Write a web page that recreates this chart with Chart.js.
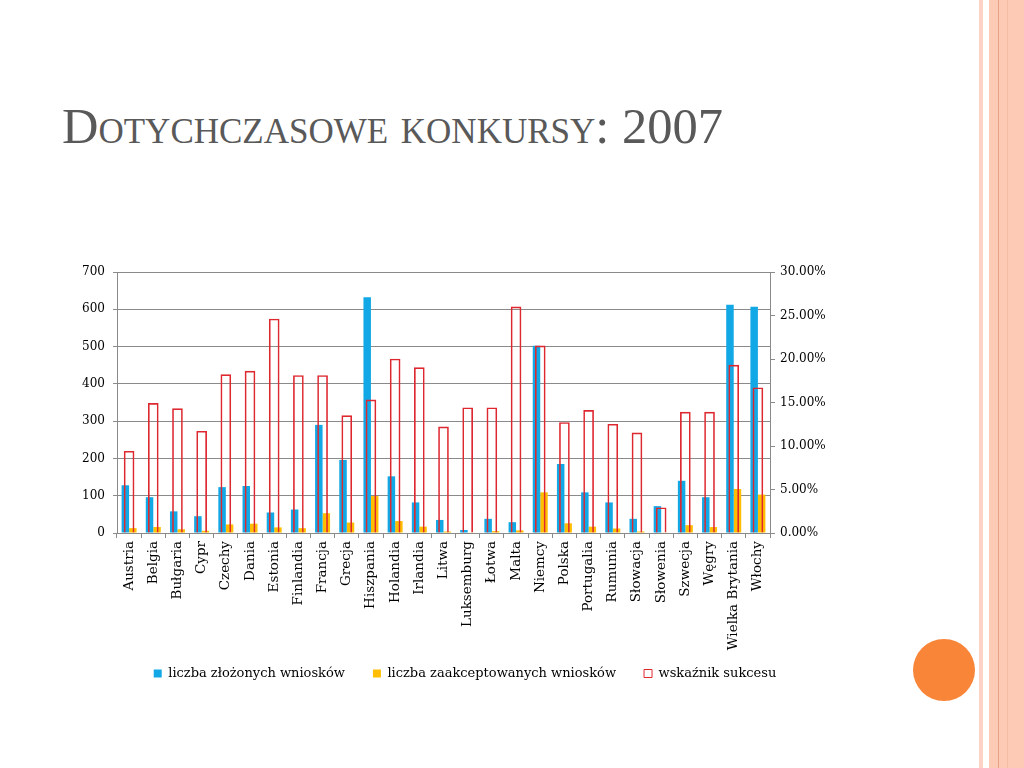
<!DOCTYPE html>
<html>
<head>
<meta charset="utf-8">
<script src="https://cdn.jsdelivr.net/npm/chart.js@4.4.1/dist/chart.umd.min.js"></script>
<style>
  html, body { margin: 0; padding: 0; background: #fff; }
  body { width: 1024px; height: 768px; position: relative; overflow: hidden; }
  #title {
    position: absolute; left: 62px; top: 97px;
    font-family: "Liberation Serif", serif; font-size: 50.5px;
    font-variant: small-caps; color: #595959; white-space: nowrap;
  }
  .deco { position: absolute; top: 0; height: 768px; }
  #circle {
    position: absolute; left: 913px; top: 639px; width: 62px; height: 62px;
    border-radius: 50%; background: #f98539;
  }
  #chart { position: absolute; left: 0; top: 0; }
</style>
</head>
<body>
<div class="deco" style="left:979px;width:4px;background:#fbd2c3"></div>
<div class="deco" style="left:989px;width:35px;background:#fccab5"></div>
<div class="deco" style="left:998px;width:1px;background:#e4a283"></div>
<div class="deco" style="left:1007px;width:1px;background:#f6bca3"></div>
<div id="circle"></div>
<div id="title">Dotychczasowe konkursy: 2007</div>
<canvas id="chart" width="1024" height="768"></canvas>
<script>
// Data
const countries = ["Austria", "Belgia", "Bułgaria", "Cypr", "Czechy", "Dania", "Estonia",
  "Finlandia", "Francja", "Grecja", "Hiszpania", "Holandia", "Irlandia", "Litwa",
  "Luksemburg", "Łotwa", "Malta", "Niemcy", "Polska", "Portugalia", "Rumunia",
  "Słowacja", "Słowenia", "Szwecja", "Węgry", "Wielka Brytania", "Włochy"];

const submitted = [128, 96, 58, 45, 123, 126, 55, 63, 290, 196, 632, 152, 82, 35,
  8, 38, 29, 502, 185, 109, 82, 38, 72, 140, 96, 612, 607];

const accepted = [13, 16, 10, 6, 23, 25, 15, 13, 53, 28, 99, 32, 17, 4,
  1, 5, 7, 109, 26, 17, 12, 4, 1, 21, 16, 118, 103];

// success rate in percent (right axis)
const successRate = [9.4, 14.9, 14.3, 11.7, 18.2, 18.6, 24.6, 18.1, 18.1, 13.5, 15.3,
  20.0, 19.0, 12.2, 14.4, 14.4, 26.0, 21.5, 12.7, 14.1, 12.5, 11.5, 2.9, 13.9,
  13.9, 19.3, 16.7];

const seriesNames = ["liczba złożonych wniosków", "liczba zaakceptowanych wniosków", "wskaźnik sukcesu"];

Chart.defaults.font.family = "'DejaVu Serif', serif";
Chart.defaults.color = "#000";

const axisGray = "#8a8a8a";

new Chart(document.getElementById("chart"), {
  type: "bar",
  data: {
    labels: countries,
    datasets: [
      {
        label: seriesNames[0],
        data: submitted,
        backgroundColor: "#12a8e6",
        yAxisID: "y",
        order: 1,
        categoryPercentage: 0.62,
        barPercentage: 1.0,
      },
      {
        label: seriesNames[1],
        data: accepted,
        backgroundColor: "#ffbf00",
        yAxisID: "y",
        order: 2,
        categoryPercentage: 0.62,
        barPercentage: 1.0,
      },
      {
        label: seriesNames[2],
        data: successRate,
        backgroundColor: "rgba(255,255,255,0)",
        borderColor: "#de2830",
        borderWidth: 1,
        yAxisID: "y1",
        order: 0,
        grouped: false,
        barThickness: 10,
      },
    ],
  },
  options: {
    responsive: false,
    animation: false,
    layout: { padding: { left: 60, right: 154, top: 272, bottom: 78 } },
    plugins: {
      tooltip: { enabled: false },
      legend: {
        position: "bottom",
        labels: {
          boxWidth: 8,
          boxHeight: 8,
          padding: 28,
          font: { size: 13 },
          sort: (a, b) => a.datasetIndex - b.datasetIndex,
        },
      },
    },
    scales: {
      x: {
        grid: { offset: true, drawOnChartArea: false, color: axisGray, tickLength: 5 },
        border: { color: axisGray },
        ticks: { autoSkip: false, maxRotation: 90, minRotation: 90, padding: 3, font: { size: 13.5 } },
        afterFit: (scale) => {
          scale.height = 106;
          // long labels run below the axis box, don't clip them
          scale._computeLabelArea = () => undefined;
        },
      },
      y: {
        position: "left",
        min: 0,
        max: 700,
        ticks: { stepSize: 100, padding: 8, font: { size: 12 } },
        grid: { color: axisGray, tickLength: 4 },
        border: { color: axisGray },
        afterFit: (scale) => { scale.width = 57; },
      },
      y1: {
        position: "right",
        min: 0,
        max: 30,
        ticks: {
          stepSize: 5,
          padding: 5,
          font: { size: 12 },
          callback: (v) => v.toFixed(2) + "%",
        },
        grid: { drawOnChartArea: false, color: axisGray, tickLength: 5 },
        border: { color: axisGray },
        afterFit: (scale) => { scale.width = 100; },
      },
    },
  },
});
</script>
</body>
</html>
